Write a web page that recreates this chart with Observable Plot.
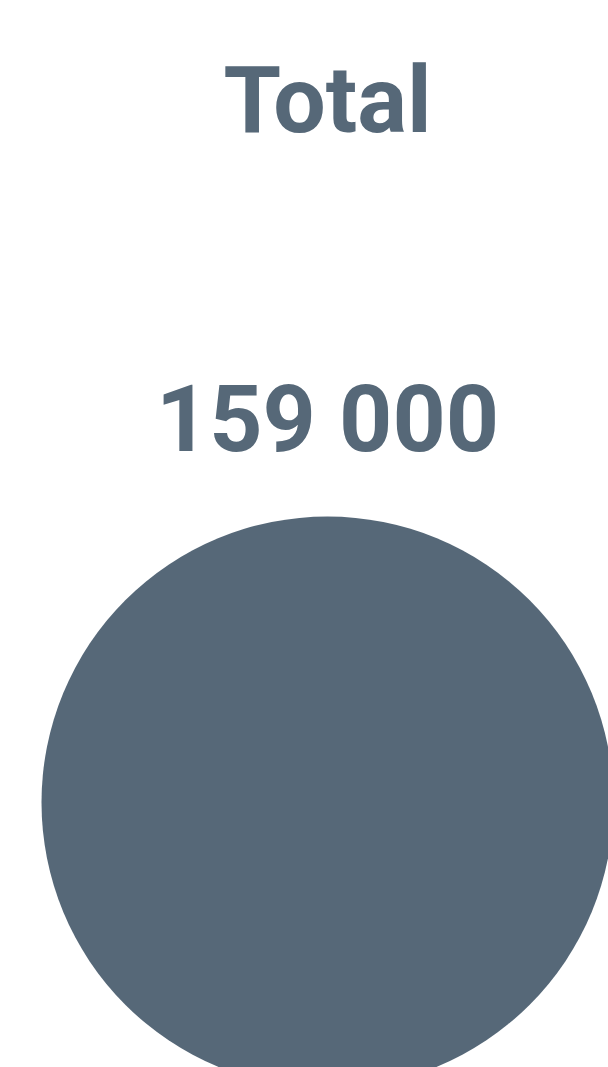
<!DOCTYPE html>
<html>
<head>
<meta charset="utf-8">
<script src="https://cdn.jsdelivr.net/npm/d3@7"></script>
<script src="https://cdn.jsdelivr.net/npm/@observablehq/plot@0.6"></script>
<style>
  html, body { margin: 0; padding: 0; background: #fff; overflow: hidden; }
  #chart { width: 608px; height: 1067px; overflow: hidden; }
  #chart svg { display: block; max-width: none !important; width: 654px !important; height: 1100px !important; }
</style>
</head>
<body>
<div id="chart"></div>
<script>
const categories = ["Total"];
const values = [159000];
const labels = ["159 000"];

const data = categories.map((c, i) => ({category: c, value: values[i], label: labels[i]}));
const color = "#566878";
const font = "Roboto, 'Noto Sans', sans-serif";

const chart = Plot.plot({
  width: 654,
  height: 1100,
  margin: 0,
  style: {background: "#fff", fontFamily: font, maxWidth: "none"},
  x: {type: "point", domain: categories, axis: null},
  r: {type: "linear", domain: [0, 159000], range: [0, 286]},
  marks: [
    Plot.text(data, {x: "category", text: "category", frameAnchor: "top", lineAnchor: "bottom", dy: 131,
      fontSize: 93, fontWeight: 700, fill: color}),
    Plot.text(data, {x: "category", text: "label", frameAnchor: "top", lineAnchor: "bottom", dy: 450,
      fontSize: 93, fontWeight: 700, fill: color}),
    Plot.dot(data, {x: "category", r: "value", frameAnchor: "top", dy: 802,
      fill: color, stroke: "none"})
  ]
});
document.getElementById("chart").appendChild(chart);
</script>
</body>
</html>
